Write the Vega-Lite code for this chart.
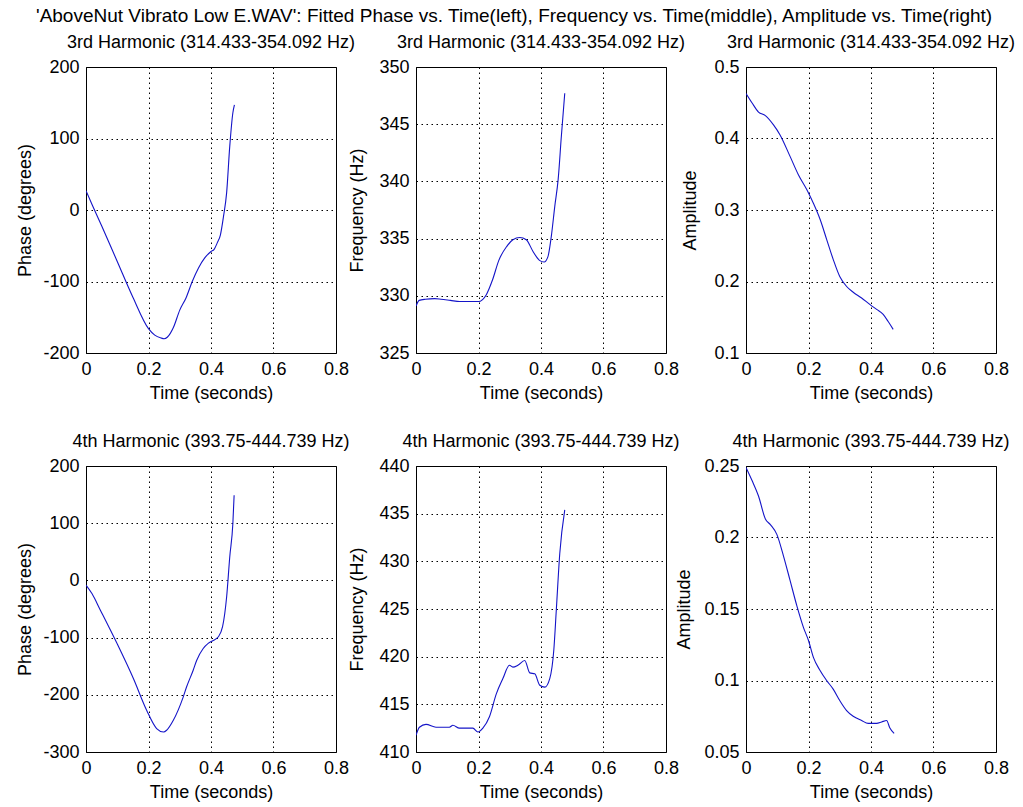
{
  "$schema": "https://vega.github.io/schema/vega-lite/v6.json",
  "background": "white",
  "padding": {"left": 16, "top": 6, "right": 5, "bottom": 5},
  "title": {"text": "'AboveNut Vibrato Low E.WAV': Fitted Phase vs. Time(left), Frequency vs. Time(middle), Amplitude vs. Time(right)", "fontSize": 19, "fontWeight": "normal", "color": "black", "anchor": "start", "frame": "group", "dx": -50, "offset": 8},
  "datasets": {
    "p3": [{"t":0,"v":27},{"t":0.02,"v":7},{"t":0.05,"v":-22},{"t":0.1,"v":-72},{"t":0.15,"v":-122},{"t":0.2,"v":-166},{"t":0.22,"v":-175},{"t":0.24,"v":-179},{"t":0.25,"v":-180},{"t":0.26,"v":-178},{"t":0.28,"v":-164},{"t":0.3,"v":-140},{"t":0.32,"v":-123},{"t":0.34,"v":-100},{"t":0.36,"v":-81},{"t":0.38,"v":-67},{"t":0.4,"v":-58},{"t":0.41,"v":-55},{"t":0.42,"v":-46},{"t":0.43,"v":-35},{"t":0.44,"v":-9},{"t":0.45,"v":24},{"t":0.46,"v":89},{"t":0.47,"v":136},{"t":0.475,"v":147}],
    "f3": [{"t":0,"v":329.1},{"t":0.01,"v":329.6},{"t":0.03,"v":329.7},{"t":0.06,"v":329.75},{"t":0.08,"v":329.7},{"t":0.11,"v":329.6},{"t":0.14,"v":329.5},{"t":0.2,"v":329.5},{"t":0.225,"v":330.1},{"t":0.245,"v":331.4},{"t":0.265,"v":333.1},{"t":0.29,"v":334.3},{"t":0.31,"v":334.9},{"t":0.332,"v":335.1},{"t":0.353,"v":334.9},{"t":0.374,"v":333.9},{"t":0.395,"v":333.1},{"t":0.41,"v":332.95},{"t":0.422,"v":333.4},{"t":0.433,"v":335.2},{"t":0.444,"v":337.8},{"t":0.455,"v":340.2},{"t":0.465,"v":343.9},{"t":0.476,"v":347.7}],
    "a3": [{"t":0,"v":0.463},{"t":0.019,"v":0.45},{"t":0.04,"v":0.437},{"t":0.062,"v":0.432},{"t":0.088,"v":0.419},{"t":0.109,"v":0.405},{"t":0.141,"v":0.375},{"t":0.168,"v":0.349},{"t":0.194,"v":0.329},{"t":0.216,"v":0.309},{"t":0.237,"v":0.287},{"t":0.258,"v":0.259},{"t":0.279,"v":0.231},{"t":0.3,"v":0.207},{"t":0.322,"v":0.193},{"t":0.343,"v":0.185},{"t":0.37,"v":0.177},{"t":0.396,"v":0.168},{"t":0.418,"v":0.161},{"t":0.439,"v":0.154},{"t":0.455,"v":0.144},{"t":0.471,"v":0.133}],
    "p4": [{"t":0,"v":-8},{"t":0.019,"v":-23},{"t":0.046,"v":-52},{"t":0.099,"v":-110},{"t":0.152,"v":-172},{"t":0.194,"v":-227},{"t":0.226,"v":-259},{"t":0.248,"v":-265},{"t":0.258,"v":-262},{"t":0.279,"v":-245},{"t":0.311,"v":-204},{"t":0.322,"v":-186},{"t":0.343,"v":-157},{"t":0.354,"v":-140},{"t":0.375,"v":-119},{"t":0.391,"v":-110},{"t":0.407,"v":-105},{"t":0.423,"v":-99},{"t":0.437,"v":-81},{"t":0.45,"v":-29},{"t":0.46,"v":41},{"t":0.47,"v":100},{"t":0.474,"v":149}],
    "f4": [{"t":0,"v":411.75},{"t":0.011,"v":412.6},{"t":0.032,"v":412.9},{"t":0.064,"v":412.6},{"t":0.107,"v":412.6},{"t":0.118,"v":412.8},{"t":0.139,"v":412.5},{"t":0.182,"v":412.5},{"t":0.198,"v":412.1},{"t":0.214,"v":412.5},{"t":0.235,"v":413.7},{"t":0.257,"v":416.1},{"t":0.278,"v":417.7},{"t":0.299,"v":419.1},{"t":0.31,"v":418.9},{"t":0.326,"v":419.1},{"t":0.348,"v":419.6},{"t":0.364,"v":418.3},{"t":0.38,"v":418.2},{"t":0.396,"v":417.0},{"t":0.412,"v":416.8},{"t":0.428,"v":417.7},{"t":0.441,"v":420.7},{"t":0.449,"v":424.9},{"t":0.46,"v":430.8},{"t":0.476,"v":435.4}],
    "a4": [{"t":0,"v":0.249},{"t":0.019,"v":0.24},{"t":0.04,"v":0.229},{"t":0.062,"v":0.213},{"t":0.078,"v":0.209},{"t":0.099,"v":0.202},{"t":0.12,"v":0.187},{"t":0.141,"v":0.17},{"t":0.163,"v":0.152},{"t":0.184,"v":0.137},{"t":0.2,"v":0.128},{"t":0.216,"v":0.116},{"t":0.237,"v":0.107},{"t":0.258,"v":0.1},{"t":0.279,"v":0.094},{"t":0.3,"v":0.086},{"t":0.322,"v":0.079},{"t":0.343,"v":0.075},{"t":0.37,"v":0.072},{"t":0.391,"v":0.07},{"t":0.418,"v":0.07},{"t":0.434,"v":0.071},{"t":0.45,"v":0.072},{"t":0.46,"v":0.067},{"t":0.474,"v":0.063}]
  },
  "columns": 3,
  "spacing": {"row": 113, "column": 80},
  "bounds": "flush",
  "concat": [
    {"title": "3rd Harmonic (314.433-354.092 Hz)", "width": 250, "height": 286, "data": {"name": "p3"},
     "mark": {"type": "line", "color": "#1414c8", "strokeWidth": 1.1, "interpolate": "monotone", "clip": true},
     "encoding": {
       "x": {"field": "t", "type": "quantitative", "scale": {"domain": [0, 0.8], "nice": false}, "axis": {"values": [0, 0.2, 0.4, 0.6, 0.8], "title": "Time (seconds)", "labelExpr": "'' + datum.value"}},
       "y": {"field": "v", "type": "quantitative", "scale": {"domain": [-200, 200], "nice": false, "zero": false}, "axis": {"values": [-200, -100, 0, 100, 200], "title": "Phase (degrees)", "labelExpr": "'' + datum.value", "titlePadding": 8}}}},
    {"title": "3rd Harmonic (314.433-354.092 Hz)", "width": 250, "height": 286, "data": {"name": "f3"},
     "mark": {"type": "line", "color": "#1414c8", "strokeWidth": 1.1, "interpolate": "monotone", "clip": true},
     "encoding": {
       "x": {"field": "t", "type": "quantitative", "scale": {"domain": [0, 0.8], "nice": false}, "axis": {"values": [0, 0.2, 0.4, 0.6, 0.8], "title": "Time (seconds)", "labelExpr": "'' + datum.value"}},
       "y": {"field": "v", "type": "quantitative", "scale": {"domain": [325, 350], "nice": false, "zero": false}, "axis": {"values": [325, 330, 335, 340, 345, 350], "title": "Frequency (Hz)", "labelExpr": "'' + datum.value", "titlePadding": 12}}}},
    {"title": "3rd Harmonic (314.433-354.092 Hz)", "width": 250, "height": 286, "data": {"name": "a3"},
     "mark": {"type": "line", "color": "#1414c8", "strokeWidth": 1.1, "interpolate": "monotone", "clip": true},
     "encoding": {
       "x": {"field": "t", "type": "quantitative", "scale": {"domain": [0, 0.8], "nice": false}, "axis": {"values": [0, 0.2, 0.4, 0.6, 0.8], "title": "Time (seconds)", "labelExpr": "'' + datum.value"}},
       "y": {"field": "v", "type": "quantitative", "scale": {"domain": [0.1, 0.5], "nice": false, "zero": false}, "axis": {"values": [0.1, 0.2, 0.3, 0.4, 0.5], "title": "Amplitude", "labelExpr": "'' + datum.value", "titlePadding": 14}}}},
    {"title": "4th Harmonic (393.75-444.739 Hz)", "width": 250, "height": 286, "data": {"name": "p4"},
     "mark": {"type": "line", "color": "#1414c8", "strokeWidth": 1.1, "interpolate": "monotone", "clip": true},
     "encoding": {
       "x": {"field": "t", "type": "quantitative", "scale": {"domain": [0, 0.8], "nice": false}, "axis": {"values": [0, 0.2, 0.4, 0.6, 0.8], "title": "Time (seconds)", "labelExpr": "'' + datum.value"}},
       "y": {"field": "v", "type": "quantitative", "scale": {"domain": [-300, 200], "nice": false, "zero": false}, "axis": {"values": [-300, -200, -100, 0, 100, 200], "title": "Phase (degrees)", "labelExpr": "'' + datum.value", "titlePadding": 8}}}},
    {"title": "4th Harmonic (393.75-444.739 Hz)", "width": 250, "height": 286, "data": {"name": "f4"},
     "mark": {"type": "line", "color": "#1414c8", "strokeWidth": 1.1, "interpolate": "monotone", "clip": true},
     "encoding": {
       "x": {"field": "t", "type": "quantitative", "scale": {"domain": [0, 0.8], "nice": false}, "axis": {"values": [0, 0.2, 0.4, 0.6, 0.8], "title": "Time (seconds)", "labelExpr": "'' + datum.value"}},
       "y": {"field": "v", "type": "quantitative", "scale": {"domain": [410, 440], "nice": false, "zero": false}, "axis": {"values": [410, 415, 420, 425, 430, 435, 440], "title": "Frequency (Hz)", "labelExpr": "'' + datum.value", "titlePadding": 12}}}},
    {"title": "4th Harmonic (393.75-444.739 Hz)", "width": 250, "height": 286, "data": {"name": "a4"},
     "mark": {"type": "line", "color": "#1414c8", "strokeWidth": 1.1, "interpolate": "monotone", "clip": true},
     "encoding": {
       "x": {"field": "t", "type": "quantitative", "scale": {"domain": [0, 0.8], "nice": false}, "axis": {"values": [0, 0.2, 0.4, 0.6, 0.8], "title": "Time (seconds)", "labelExpr": "'' + datum.value"}},
       "y": {"field": "v", "type": "quantitative", "scale": {"domain": [0.05, 0.25], "nice": false, "zero": false}, "axis": {"values": [0.05, 0.1, 0.15, 0.2, 0.25], "title": "Amplitude", "labelExpr": "'' + datum.value", "titlePadding": 10}}}}
  ],
  "config": {
    "font": "Liberation Sans",
    "view": {"stroke": "black", "strokeWidth": 1},
    "title": {"fontSize": 18, "fontWeight": "normal", "color": "black", "offset": 6},
    "axis": {"domain": false, "ticks": false, "labelPadding": 7, "labelFontSize": 18, "labelColor": "black", "titleFontSize": 18, "titleFontWeight": "normal", "titleColor": "black", "titlePadding": 8, "grid": true, "gridColor": "black", "gridDash": [1.5, 3.5], "gridOpacity": 1, "gridWidth": 1, "labelFlush": false, "labelOverlap": false},
    "axisX": {"titlePadding": 6}
  }
}
